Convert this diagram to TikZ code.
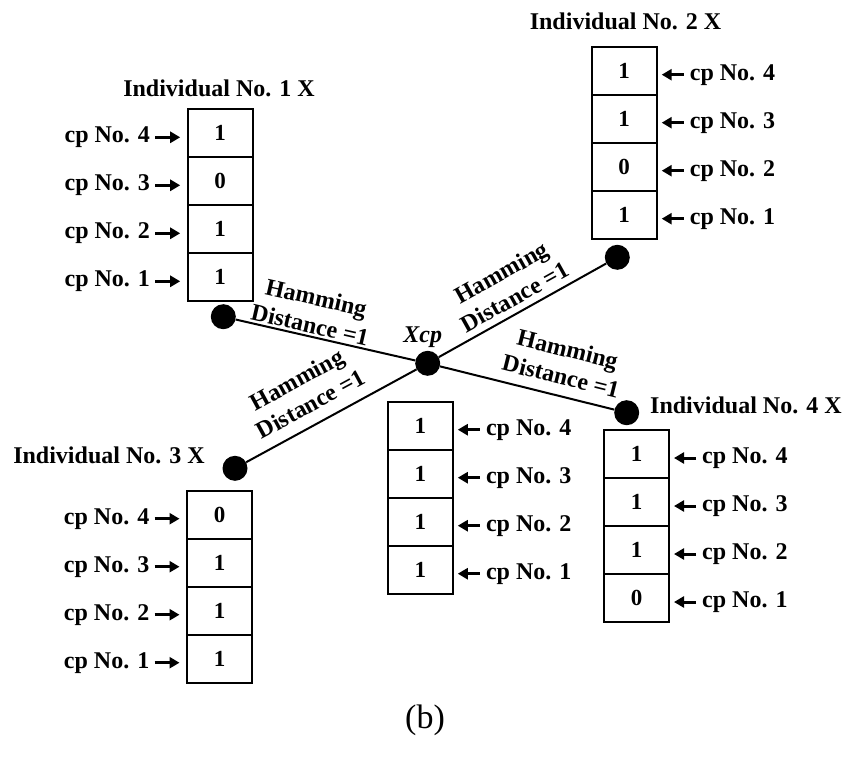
\documentclass[tikz,border=0pt]{standalone}
\usepackage{fontspec}
\setmainfont{Liberation Serif}
\usetikzlibrary{positioning,arrows.meta}

\begin{document}
\begin{tikzpicture}[x=1pt,y=-1pt]
\tikzset{cellule/.style={draw, line width=2pt, minimum width=65pt, minimum height=48pt, inner sep=0pt, outer sep=0pt, font=\fontsize{23}{25}\selectfont\bfseries}}
\tikzset{cplabel/.style={inner sep=2pt, yshift=-4pt, font=\fontsize{24}{28}\selectfont\bfseries}}
\tikzset{titre/.style={inner sep=0pt, font=\fontsize{24}{28}\selectfont\bfseries}}
\tikzset{point/.style={circle, fill=black, minimum size=25pt, inner sep=0pt}}
\tikzset{flechegauche/.style={-{Triangle[length=10pt,width=11pt]}, line width=3pt, shorten <=3pt, shorten >=7.5pt}}
\tikzset{flechedroite/.style={-{Triangle[length=10pt,width=11pt]}, line width=3pt, shorten <=4pt, shorten >=5pt}}
\tikzset{lien/.style={line width=2pt}}
\tikzset{hamming/.style={align=center, inner sep=0pt, font=\fontsize{24}{28}\selectfont\bfseries}}
\useasboundingbox (0,0) rectangle (848,765);
% individual 1
\node[titre] (T1) at (219,88) {Individual No. 1 X};
\node[cellule] (A4) at (220.2,133.3) {1};
\node[cellule, below=0pt of A4] (A3) {0};
\node[cellule, below=0pt of A3] (A2) {1};
\node[cellule, below=0pt of A2] (A1) {1};
\node[cplabel, left=35.5pt of A4] (LA4) {cp No. 4};
\node[cplabel, left=35.5pt of A3] (LA3) {cp No. 3};
\node[cplabel, left=35.5pt of A2] (LA2) {cp No. 2};
\node[cplabel, left=35.5pt of A1] (LA1) {cp No. 1};
\draw[flechegauche] (LA4.east) -- (LA4.east -| A4.west);
\draw[flechegauche] (LA3.east) -- (LA3.east -| A3.west);
\draw[flechegauche] (LA2.east) -- (LA2.east -| A2.west);
\draw[flechegauche] (LA1.east) -- (LA1.east -| A1.west);
% individual 2
\node[titre] (T2) at (625.5,21) {Individual No. 2 X};
\node[cellule] (B4) at (624.2,70.7) {1};
\node[cellule, below=0pt of B4] (B3) {1};
\node[cellule, below=0pt of B3] (B2) {0};
\node[cellule, below=0pt of B2] (B1) {1};
\node[cplabel, right=31pt of B4] (LB4) {cp No. 4};
\node[cplabel, right=31pt of B3] (LB3) {cp No. 3};
\node[cplabel, right=31pt of B2] (LB2) {cp No. 2};
\node[cplabel, right=31pt of B1] (LB1) {cp No. 1};
\draw[flechedroite] (LB4.west) -- (LB4.west -| B4.east);
\draw[flechedroite] (LB3.west) -- (LB3.west -| B3.east);
\draw[flechedroite] (LB2.west) -- (LB2.west -| B2.east);
\draw[flechedroite] (LB1.west) -- (LB1.west -| B1.east);
% individual 3
\node[titre] (T3) at (109,455.5) {Individual No. 3 X};
\node[cellule] (C4) at (219.5,514.7) {0};
\node[cellule, below=0pt of C4] (C3) {1};
\node[cellule, below=0pt of C3] (C2) {1};
\node[cellule, below=0pt of C2] (C1) {1};
\node[cplabel, left=35.5pt of C4] (LC4) {cp No. 4};
\node[cplabel, left=35.5pt of C3] (LC3) {cp No. 3};
\node[cplabel, left=35.5pt of C2] (LC2) {cp No. 2};
\node[cplabel, left=35.5pt of C1] (LC1) {cp No. 1};
\draw[flechegauche] (LC4.east) -- (LC4.east -| C4.west);
\draw[flechegauche] (LC3.east) -- (LC3.east -| C3.west);
\draw[flechegauche] (LC2.east) -- (LC2.east -| C2.west);
\draw[flechegauche] (LC1.east) -- (LC1.east -| C1.west);
% individual Xcp
\node[cellule] (X4) at (420.3,425.7) {1};
\node[cellule, below=0pt of X4] (X3) {1};
\node[cellule, below=0pt of X3] (X2) {1};
\node[cellule, below=0pt of X2] (X1) {1};
\node[cplabel, right=31pt of X4] (LX4) {cp No. 4};
\node[cplabel, right=31pt of X3] (LX3) {cp No. 3};
\node[cplabel, right=31pt of X2] (LX2) {cp No. 2};
\node[cplabel, right=31pt of X1] (LX1) {cp No. 1};
\draw[flechedroite] (LX4.west) -- (LX4.west -| X4.east);
\draw[flechedroite] (LX3.west) -- (LX3.west -| X3.east);
\draw[flechedroite] (LX2.west) -- (LX2.west -| X2.east);
\draw[flechedroite] (LX1.west) -- (LX1.west -| X1.east);
% individual 4
\node[titre, anchor=west] (T4) at (650,405.5) {Individual No. 4 X};
\node[cellule] (D4) at (636.5,454) {1};
\node[cellule, below=0pt of D4] (D3) {1};
\node[cellule, below=0pt of D3] (D2) {1};
\node[cellule, below=0pt of D2] (D1) {0};
\node[cplabel, right=31pt of D4] (LD4) {cp No. 4};
\node[cplabel, right=31pt of D3] (LD3) {cp No. 3};
\node[cplabel, right=31pt of D2] (LD2) {cp No. 2};
\node[cplabel, right=31pt of D1] (LD1) {cp No. 1};
\draw[flechedroite] (LD4.west) -- (LD4.west -| D4.east);
\draw[flechedroite] (LD3.west) -- (LD3.west -| D3.east);
\draw[flechedroite] (LD2.west) -- (LD2.west -| D2.east);
\draw[flechedroite] (LD1.west) -- (LD1.west -| D1.east);
% points and links
\node[point] (X) at (427.7,363.3) {};
\node[point] (P1) at (223.3,316.7) {};
\node[point] (P2) at (617.3,257.3) {};
\node[point] (P3) at (235,468.3) {};
\node[point] (P4) at (626.7,412.7) {};
\node[titre, font=\fontsize{24}{28}\selectfont\bfseries\itshape, above=3pt of X, xshift=-5pt] (TX) {Xcp};
\draw[lien] (P1) -- node[hamming, pos=0.40, sloped, above=2pt] (H1) {Hamming\\Distance =1} (X);
\draw[lien] (X) -- node[hamming, pos=0.50, sloped, above=6pt] (H2) {Hamming\\Distance =1} (P2);
\draw[lien] (P3) -- node[hamming, pos=0.435, sloped, above=11pt] (H3) {Hamming\\Distance =1} (X);
\draw[lien] (X) -- node[hamming, pos=0.667, sloped, above=10pt] (H4) {Hamming\\Distance =1} (P4);
\node[font=\fontsize{34}{38}\selectfont] (B) at (425,720) {(b)};
\end{tikzpicture}
\end{document}
